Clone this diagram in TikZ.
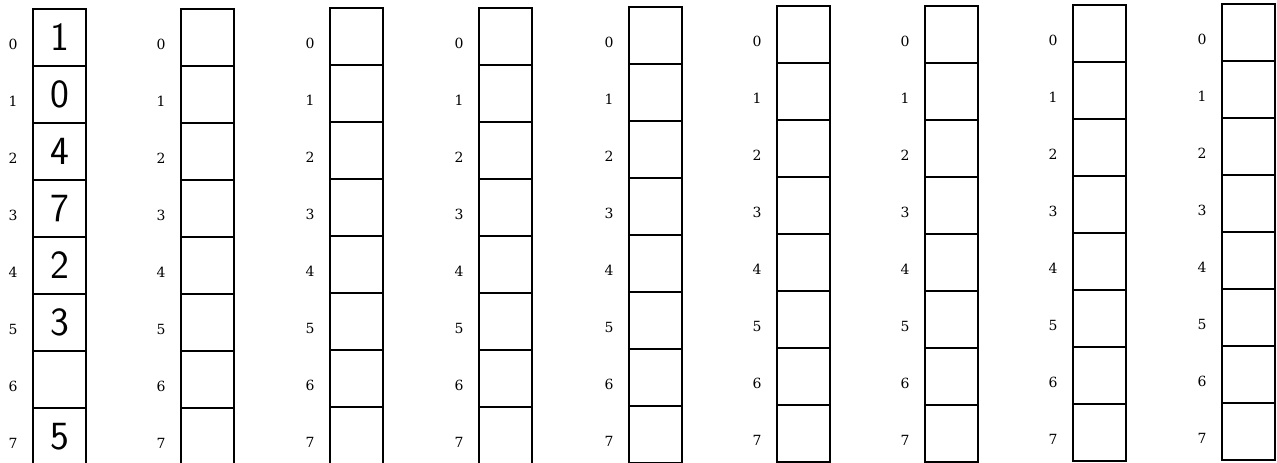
\documentclass[tikz,border=0pt]{standalone}
\usepackage{fontspec}
\newfontfamily\idxfont{DejaVu Serif}
\begin{document}
\begin{tikzpicture}[x=1pt,y=-1pt,
  cell/.style={draw,line width=1.2pt,minimum width=53pt,minimum height=57pt,inner sep=0pt,outer sep=0pt,font=\fontsize{40}{40}\sffamily},
  idx/.style={font=\idxfont\fontsize{14}{14}\selectfont,inner sep=0pt}]
\useasboundingbox (0,0) rectangle (1277,463);
% first column with values
\foreach \j/\v in {0/1,1/0,2/4,3/7,4/2,5/3,6/{},7/5}{
  \node[cell] (c1-\j) at (33+26.5, 9+57*\j+28.5) {\v};
  \node[idx] (i1-\j) at (13, 9+57*\j+35.5) {\j};
}
% empty columns
\foreach \c/\xl/\yt in {2/181/9, 3/330/8, 4/479/8, 5/629/7, 6/777/6, 7/925/6, 8/1073/5, 9/1222/4}{
  \foreach \j in {0,...,7}{
    \node[cell] (c\c-\j) at (\xl+26.5, \yt+57*\j+28.5) {};
    \node[idx] (i\c-\j) at (\xl-20, \yt+57*\j+35.5) {\j};
  }
}
\end{tikzpicture}
\end{document}
